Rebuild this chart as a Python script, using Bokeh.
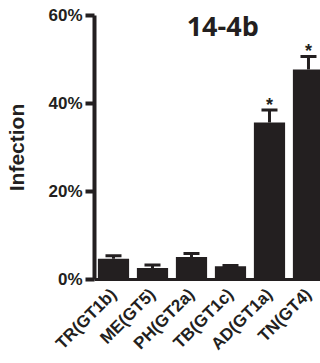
import math
from bokeh.plotting import figure
from bokeh.models import (ColumnDataSource, Range1d, FixedTicker, NumeralTickFormatter,
                          Whisker, TeeHead, Label)
from bokeh.core.properties import value
from bokeh.embed import file_html
from bokeh.resources import INLINE

categories = ["TR(GT1b)", "ME(GT5)", "PH(GT2a)", "TB(GT1c)", "AD(GT1a)", "TN(GT4)"]
infection = [0.047, 0.026, 0.051, 0.030, 0.357, 0.477]
error = [0.007, 0.007, 0.008, 0.002, 0.028, 0.030]
stars = ["", "", "", "", "*", "*"]
y_ticks = [0.0, 0.2, 0.4, 0.6]
title_text = "14-4b"
y_label = "Infection"

INK = "#231f20"
FONT = "Liberation Sans"

idx = list(range(len(categories)))
src = ColumnDataSource(dict(
    x=idx,
    top=infection,
    upper=[v + e for v, e in zip(infection, error)],
    star=stars,
))

p = figure(width=320, height=363, output_backend="svg", toolbar_location=None,
           x_range=Range1d(-0.487, 5.308), y_range=Range1d(0, 0.6),
           min_border_left=94, min_border_right=0, min_border_top=15, min_border_bottom=84)
p.outline_line_color = None
p.xgrid.visible = False
p.ygrid.visible = False
p.background_fill_color = "white"
p.border_fill_color = "white"

p.vbar(x="x", top="top", width=0.8, source=src, fill_color=INK, line_color=None)

w = Whisker(base="x", lower="top", upper="upper", source=src, dimension="height",
            line_color=INK, line_width=3,
            upper_head=TeeHead(size=16, line_width=3, line_color=INK), lower_head=None)
p.add_layout(w)

p.text(x="x", y="upper", text="star", source=src, y_offset=-5,
       text_align="center", text_baseline="alphabetic",
       text_font=value(FONT), text_font_size="18px", text_font_style="bold", text_color=INK)

p.add_layout(Label(x=2.8, y=0.577, text=title_text, text_align="center",
                   text_baseline="alphabetic", text_font="Open Sans",
                   text_font_size="27px", text_font_style="bold", text_color=INK))

ya = p.yaxis[0]
ya.ticker = FixedTicker(ticks=y_ticks)
ya.formatter = NumeralTickFormatter(format="0%")
ya.minor_tick_line_color = None
ya.major_tick_in = 0
ya.major_tick_out = 9
ya.major_tick_line_width = 4
ya.major_tick_line_color = INK
ya.axis_line_width = 4
ya.axis_line_color = INK
ya.major_label_standoff = 3
ya.major_label_text_font = FONT
ya.major_label_text_font_size = "17px"
ya.major_label_text_font_style = "bold"
ya.major_label_text_color = INK
ya.axis_label = y_label
ya.axis_label_text_font = FONT
ya.axis_label_text_font_size = "21px"
ya.axis_label_text_font_style = "bold"
ya.axis_label_text_color = INK
ya.axis_label_standoff = 17

xa = p.xaxis[0]
xa.ticker = FixedTicker(ticks=idx)
xa.major_label_overrides = {i: c for i, c in zip(idx, categories)}
xa.minor_tick_line_color = None
xa.major_tick_line_color = None
xa.major_tick_in = 0
xa.major_tick_out = 0
xa.axis_line_width = 3
xa.axis_line_color = INK
xa.major_label_orientation = math.pi / 4
xa.major_label_standoff = 12
xa.major_label_text_font = FONT
xa.major_label_text_font_size = "17px"
xa.major_label_text_font_style = "bold"
xa.major_label_text_color = INK

open("out.html", "w").write(file_html(p, INLINE))
